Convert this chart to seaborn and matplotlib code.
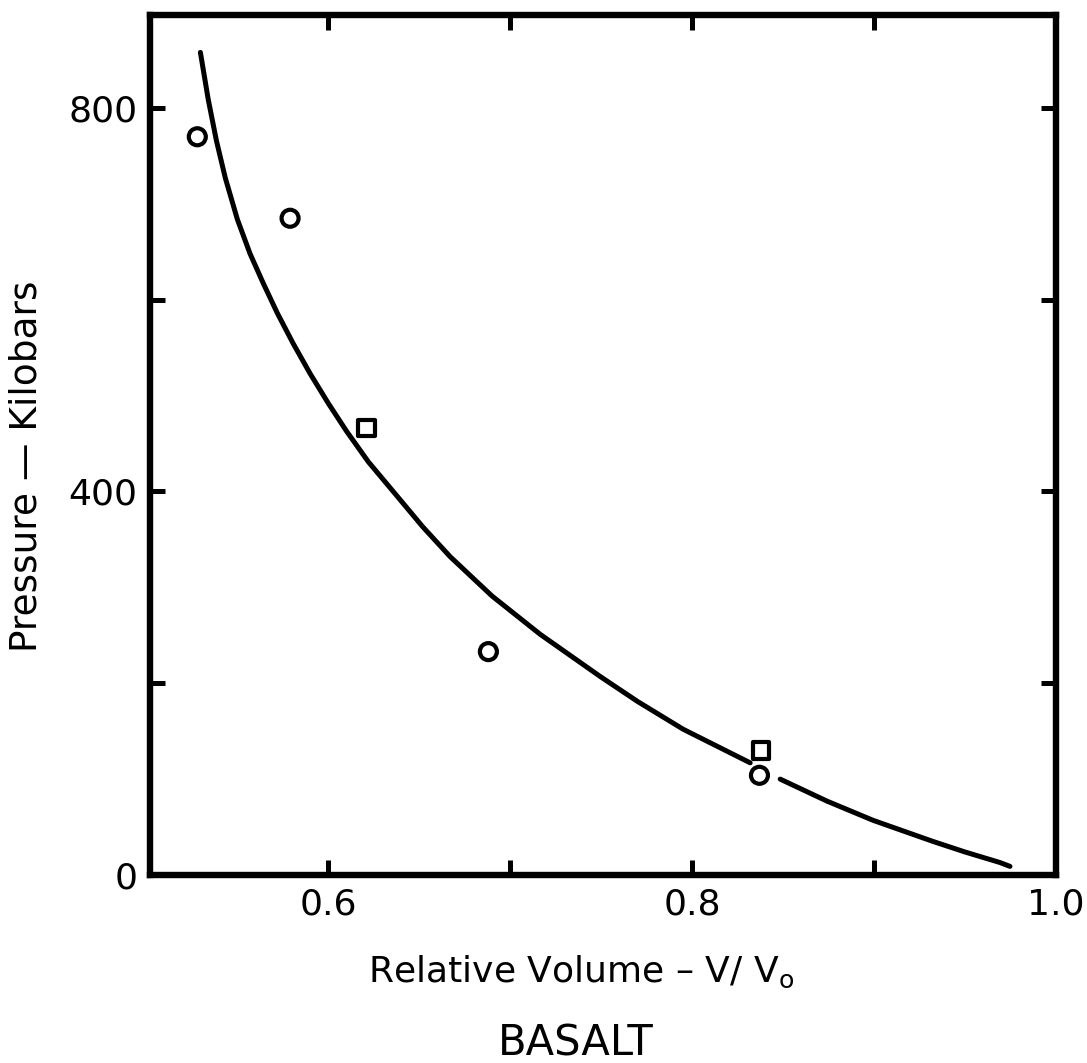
import matplotlib
matplotlib.use('Agg')
import matplotlib.pyplot as plt
import seaborn as sns
import pandas as pd

# ---- data ----
curve_v = [0.5297, 0.5340, 0.5385, 0.5434, 0.5500, 0.5570, 0.5643, 0.5720, 0.5808,
           0.5900, 0.6000, 0.6100, 0.6220, 0.6379, 0.6520, 0.6670, 0.6900, 0.7165,
           0.7495, 0.7700, 0.7951, 0.8319,
           0.8484, 0.8742, 0.8995, 0.9324, 0.9500, 0.9692, 0.9747]
curve_p = [858, 809, 766, 727, 684, 648, 617, 586, 554,
           523, 492, 463, 431, 395, 363, 332, 291, 251,
           207, 181, 152, 117,
           100, 77, 57, 35, 24, 13, 9]
curve_seg = [0] * 22 + [1] * 7

circle_v = [0.528, 0.579, 0.688, 0.837]
circle_p = [770, 685, 233, 104]
square_v = [0.621, 0.838]
square_p = [466, 130]

xticks = [0.6, 0.7, 0.8, 0.9, 1.0]
xticklabels = ['0.6', '', '0.8', '', '1.0']
yticks = [0, 200, 400, 600, 800]
yticklabels = ['0', '', '400', '', '800']

xlabel = "Relative Volume – V/ V$_\\mathregular{o}$"
ylabel = "Pressure — Kilobars"
title = "BASALT"

# ---- styling ----
sns.set_theme(style='ticks', rc={'axes.edgecolor': 'black', 'text.color': 'black',
                                 'xtick.color': 'black', 'ytick.color': 'black',
                                 'axes.labelcolor': 'black'})
plt.rcParams['font.family'] = ['DejaVu Sans']

fig = plt.figure(figsize=(10.87, 10.63), dpi=100)
ax = fig.add_axes([150 / 1087, 188 / 1063, 906 / 1087, 860 / 1063])

curve_df = pd.DataFrame({'v': curve_v, 'p': curve_p, 'seg': curve_seg})
sns.lineplot(data=curve_df, x='v', y='p', units='seg', estimator=None, sort=False,
             color='black', linewidth=3.6, ax=ax)

sns.scatterplot(x=circle_v, y=circle_p, marker='o', s=150, facecolor='none',
                edgecolor='black', linewidth=3.0, ax=ax, zorder=3)
sns.scatterplot(x=square_v, y=square_p, marker='s', s=140, facecolor='none',
                edgecolor='black', linewidth=3.0, ax=ax, zorder=3)

ax.set_xlim(0.502, 1.0)
ax.set_ylim(0, 897)
ax.set_xticks(xticks)
ax.set_xticklabels(xticklabels)
ax.set_yticks(yticks)
ax.set_yticklabels(yticklabels)
ax.tick_params(direction='in', length=11, width=3.6, top=True, right=True,
               labelsize=26, pad=9)
for s in ax.spines.values():
    s.set_linewidth(4.6)
    s.set_color('black')

ax.set_xlabel('')
ax.set_ylabel('')
fig.text(27 / 1087, 1 - 466 / 1063, ylabel, rotation=90, ha='center', va='center',
         fontsize=27)
fig.text(581 / 1087, 1 - 982 / 1063, xlabel, ha='center', va='baseline', fontsize=26)
fig.text(576 / 1087, 1 - 1055 / 1063, title, ha='center', va='baseline', fontsize=30)

fig.savefig('out.png', dpi=100)
